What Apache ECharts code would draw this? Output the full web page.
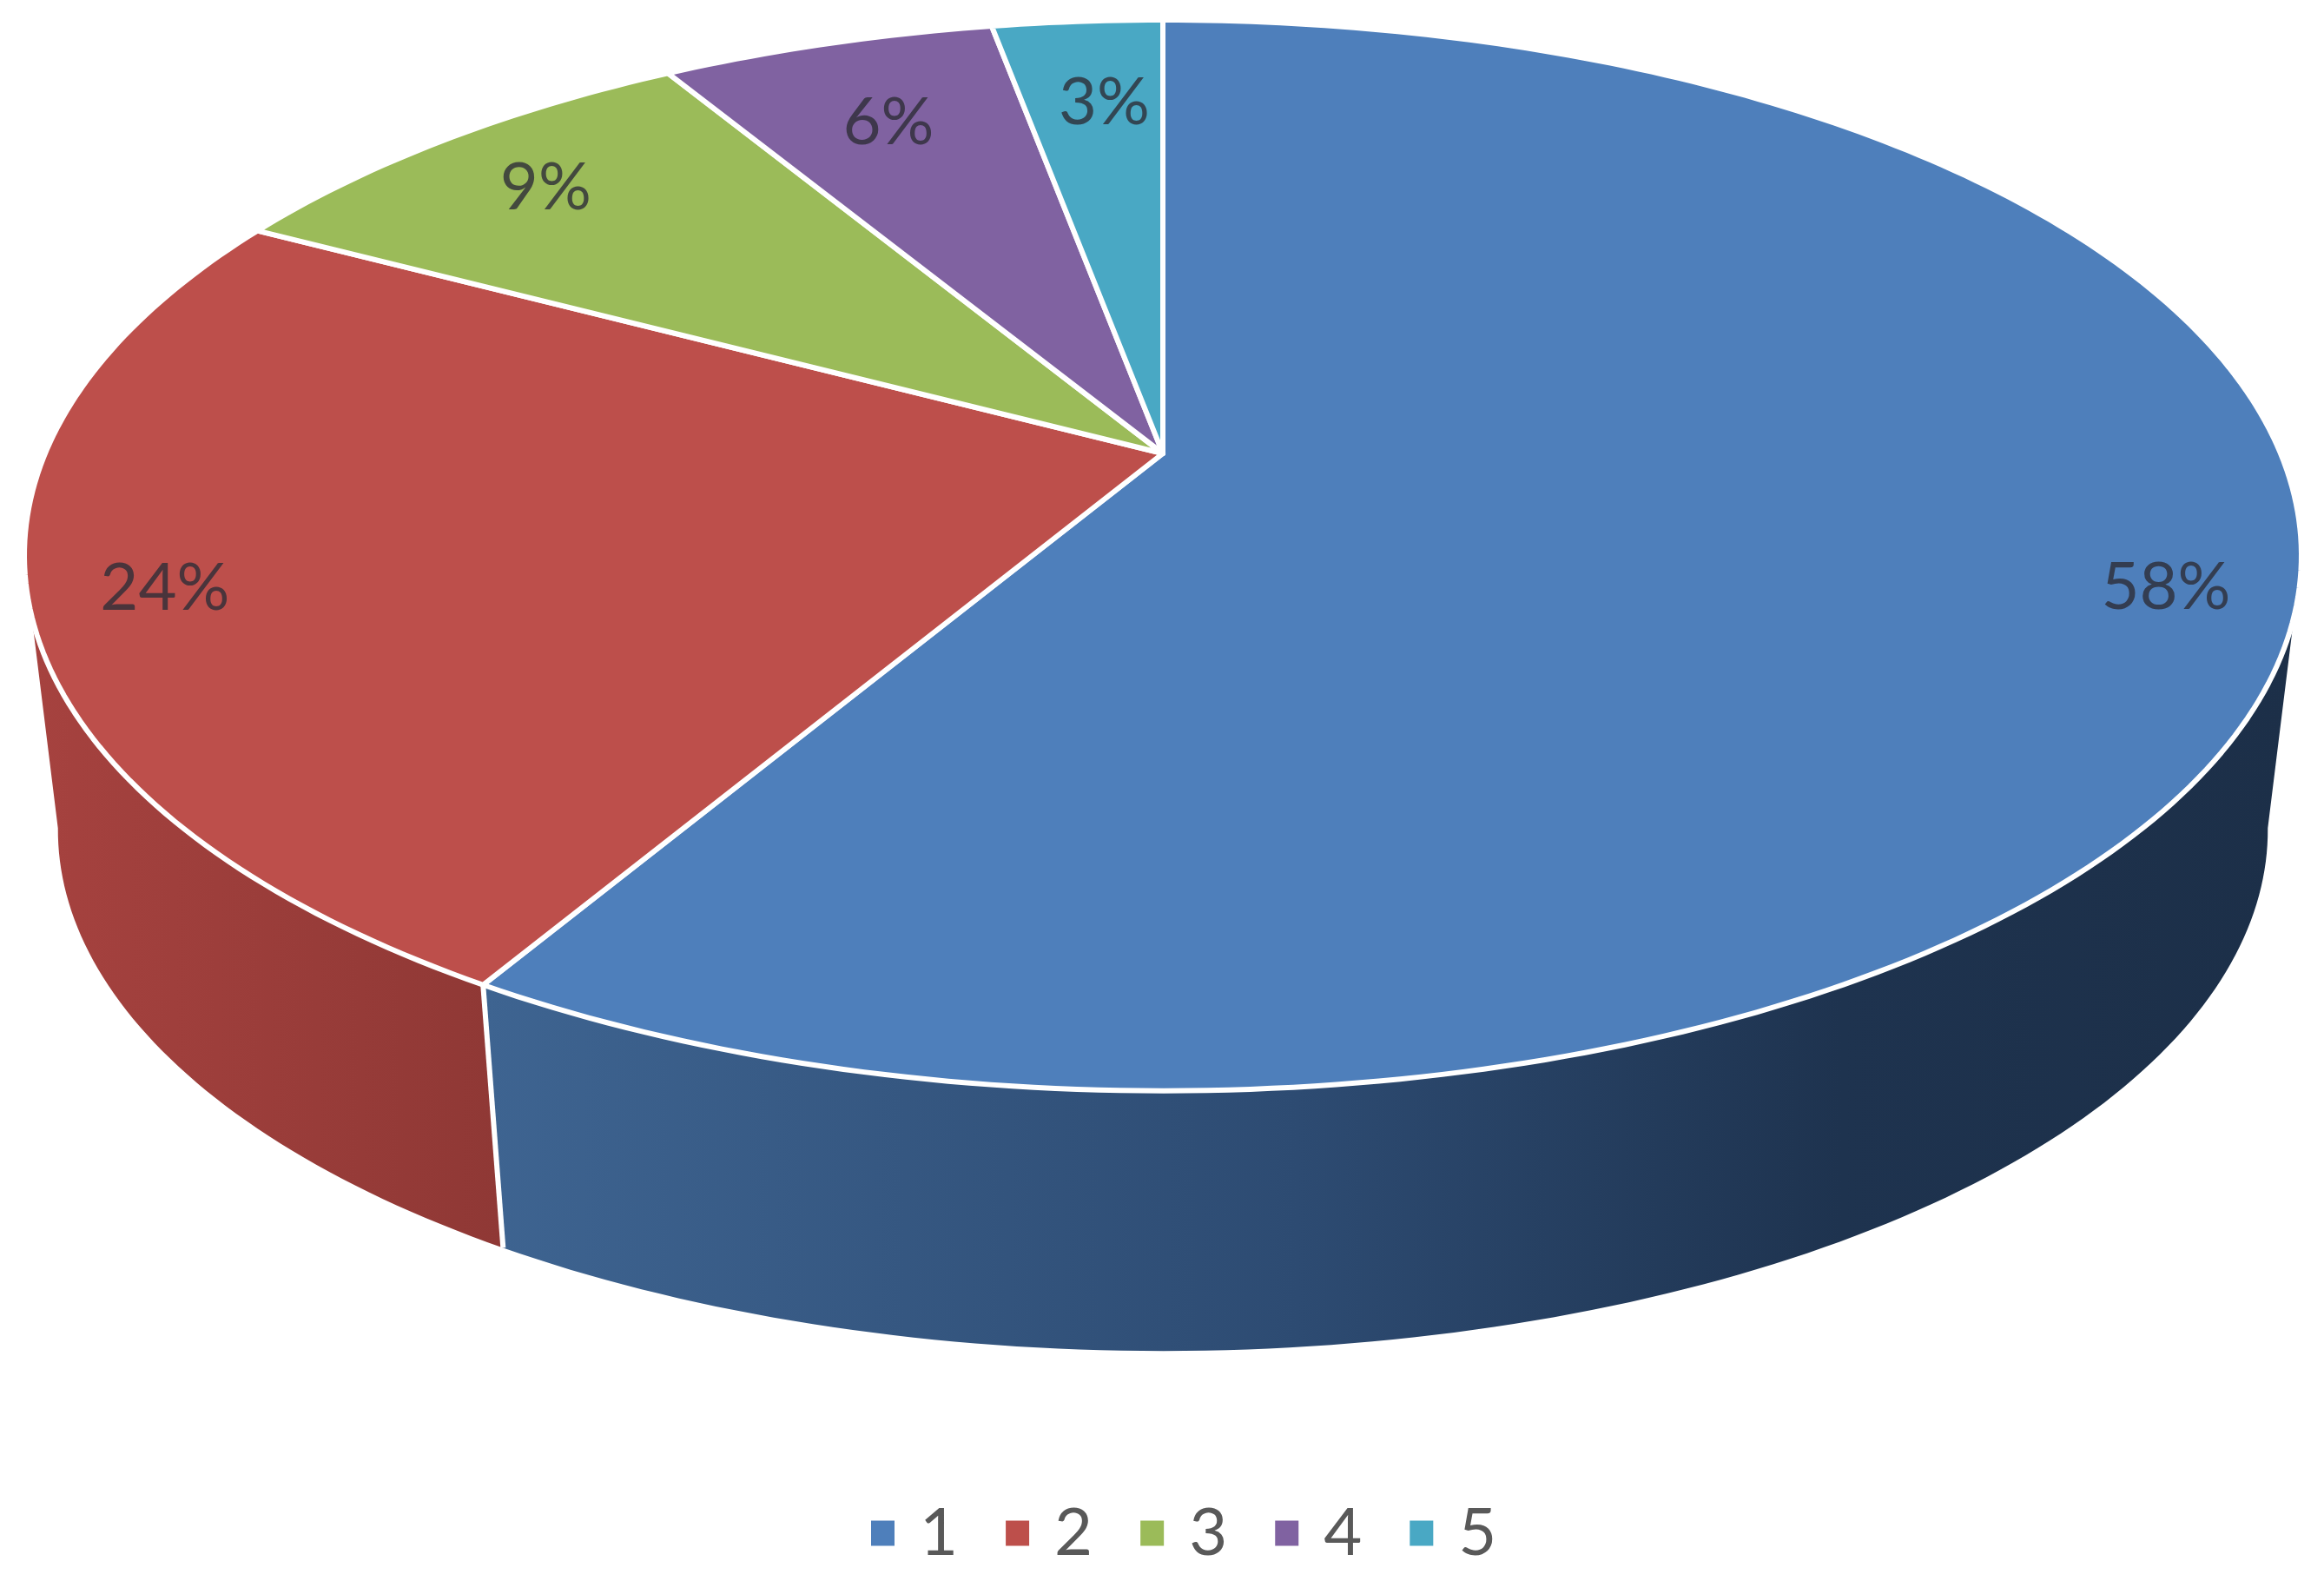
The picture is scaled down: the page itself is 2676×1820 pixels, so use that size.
<!DOCTYPE html>
<html>
<head>
<meta charset="utf-8">
<style>
  html, body { margin: 0; padding: 0; background: #fff; }
  #chart { width: 2676px; height: 1820px; }
</style>
<script src="https://cdn.jsdelivr.net/npm/echarts@6/dist/echarts.min.js"></script>
</head>
<body>
<div id="chart"></div>
<script>
const categories = ['1', '2', '3', '4', '5']
// shares, labels show them rounded
const shares = [58.49, 24.3, 8.6, 5.7, 2.91]

const colors = ['#4e7fbb', '#bd4f4b', '#9bbb59', '#8062a1', '#49a8c4']
const sideColors = [
  [[0, '#3e6491'], [0.45, '#2d4b72'], [0.75, '#1e334f'], [1, '#1c2f48']],
  [[0, '#a6423f'], [1, '#8f3835']]
]
// how far out along the radius each label sits, then a small nudge in px
const labelRadius = [0.88, 0.88, 0.85, 0.8, 0.8]
const labelNudge = [[12, 10], [-7, 7], [3, 7], [3, 8], [14, 7]]

// tilted disc: the pie's centre is not the centre of the ellipse on screen
const disc = { x: 1339, y: 522, a: 1287, b: 594, k: 0.1904 }
// bottom rim of the side wall is a bit smaller and further down
const rim = { x: 1339, y: 841, a: 1285 * 0.972, b: 593 * 0.975, k: 0.1904 }
// part of the top edge that faces the viewer, in percent from 12 o'clock
const frontFrom = 29.8
const frontTo = 70.2
// the rim stays visible a little further round than the top edge
const rimFrom = 28
const rimTo = 72

function project (d, pct, r) {
  const t = pct / 100 * Math.PI * 2
  const sx = Math.sin(t) * r
  const sy = Math.cos(t) * r
  const w = 1 + d.k * sy
  return [d.x + d.a * sx / w, d.y - d.b * sy / w]
}

function arc (d, from, to) {
  const pts = []
  const n = Math.max(2, Math.ceil(Math.abs(to - from) * 4))
  for (let i = 0; i <= n; i++) {
    pts.push(project(d, from + (to - from) * i / n, 1))
  }
  return pts
}

function renderTop (index) {
  return function (params, api) {
    const from = api.value(0)
    const to = api.value(1)
    const mid = (from + to) / 2
    const pos = project(disc, mid, labelRadius[index])
    return {
      type: 'group',
      children: [
        {
          type: 'polygon',
          shape: { points: [[disc.x, disc.y]].concat(arc(disc, from, to)) },
          style: { fill: colors[index], stroke: '#fff', lineWidth: 6, lineJoin: 'round' }
        },
        {
          type: 'text',
          z2: 10,
          style: {
            x: pos[0] + labelNudge[index][0],
            y: pos[1] + labelNudge[index][1],
            text: Math.round(api.value(2)) + '%',
            fill: 'rgba(45,45,55,0.8)',
            font: '76px Lato',
            align: 'center',
            verticalAlign: 'middle'
          }
        }
      ]
    }
  }
}

function renderSide (index) {
  return function (params, api) {
    const start = api.value(0)
    const end = api.value(1)
    const from = Math.max(start, frontFrom)
    const to = Math.min(end, frontTo)
    if (to <= from) {
      return null
    }
    // where the slice runs past the visible top edge, let the rim carry on
    const rimA = start < frontFrom ? rimFrom : from
    const rimB = end > frontTo ? rimTo : to
    const stops = sideColors[index].map(s => ({ offset: s[0], color: s[1] }))
    const children = [{
      type: 'polygon',
      shape: { points: arc(disc, from, to).concat(arc(rim, rimB, rimA)) },
      style: { fill: new echarts.graphic.LinearGradient(0, 0, 1, 0, stops) }
    }]
    if (end < frontTo) {
      const p1 = project(disc, end, 1)
      const p2 = project(rim, end, 1)
      children.push({
        type: 'line',
        z2: 5,
        shape: { x1: p1[0], y1: p1[1], x2: p2[0], y2: p2[1] },
        style: { stroke: '#fff', lineWidth: 6 }
      })
    }
    return { type: 'group', children: children }
  }
}

let sum = 0
const ranges = shares.map(v => {
  const row = [sum, sum + v, v]
  sum += v
  return row
})

const chart = echarts.init(document.getElementById('chart'))

const sideSeries = sideColors.map((c, i) => ({
  type: 'custom',
  name: 'side' + i,
  coordinateSystem: 'none',
  silent: true,
  z: 1,
  renderItem: renderSide(i),
  data: [ranges[i]]
}))

const topSeries = categories.map((name, i) => ({
  type: 'custom',
  name: name,
  coordinateSystem: 'none',
  silent: true,
  z: 2,
  itemStyle: { color: colors[i] },
  renderItem: renderTop(i),
  data: [ranges[i]]
}))

chart.setOption({
  animation: false,
  backgroundColor: '#fff',
  legend: {
    data: categories,
    left: 998,
    top: 1722,
    icon: 'rect',
    itemWidth: 27,
    itemHeight: 29,
    itemGap: 55,
    selectedMode: false,
    textStyle: {
      fontFamily: 'Lato',
      fontSize: 76,
      color: '#595959',
      padding: [0, 0, 0, 24]
    }
  },
  series: sideSeries.concat(topSeries)
})
</script>
</body>
</html>
